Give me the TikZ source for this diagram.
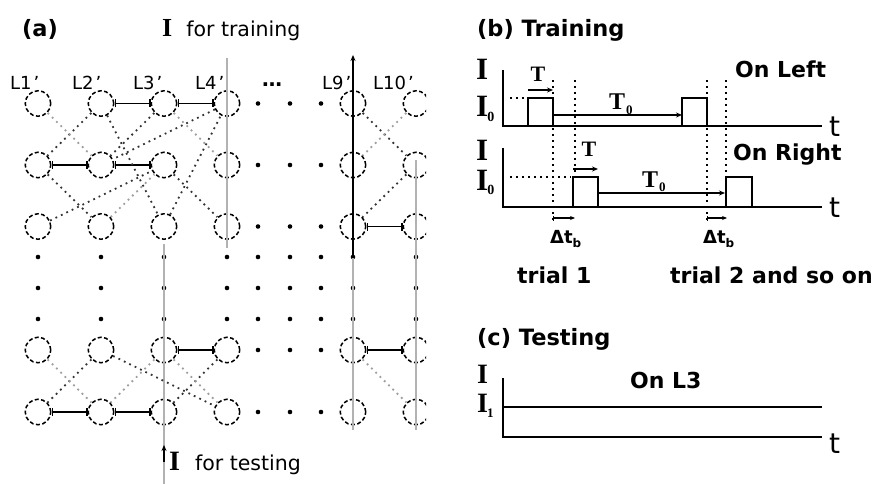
\documentclass[tikz,border=0pt]{standalone}
\usepackage{fontspec}
\setmainfont{DejaVu Sans}
\newfontfamily\tnr{Liberation Serif}
\usetikzlibrary{arrows.meta}
\newcommand{\lowsub}[2]{\raisebox{-5pt}{\fontsize{#1}{#1}\selectfont #2}}
\tikzset{
  neuron/.style={circle, draw=black, line width=1.5pt, dash pattern=on 4pt off 2.4pt, minimum size=25.5pt, inner sep=0pt},
  syn/.style={line width=1.8pt, {Bar[width=8pt,line width=1.6pt]}-{Bar[width=8pt,line width=1.6pt]}},
  dk/.style={draw=black!80, line width=1.8pt, dash pattern=on 1.8pt off 4.2pt},
  lt/.style={draw=black!38, line width=1.8pt, dash pattern=on 1.8pt off 4.2pt},
  vline/.style={draw=black!30, line width=1.3pt},
  lab/.style={font=\fontsize{18}{20}\selectfont, inner sep=0pt, anchor=base west},
  ttl/.style={font=\fontsize{22.5}{26}\selectfont\bfseries, inner sep=0pt, anchor=base west},
  txt/.style={font=\fontsize{20.5}{24}\selectfont, inner sep=0pt, anchor=base west},
  btxt/.style={font=\fontsize{22}{26}\selectfont\bfseries, inner sep=0pt, anchor=base west},
  serI/.style={font=\fontsize{31}{33}\selectfont\tnr\bfseries, inner sep=0pt, anchor=base west},
  serIc/.style={font=\fontsize{28}{30}\selectfont\tnr\bfseries, inner sep=0pt, anchor=base west},
  Tlab/.style={font=\fontsize{22}{24}\selectfont\tnr\bfseries, inner sep=0pt, anchor=base},
  T0lab/.style={font=\fontsize{24}{26}\selectfont\tnr\bfseries, inner sep=0pt, anchor=base west},
  tlab/.style={font=\fontsize{28}{30}\selectfont, inner sep=0pt, anchor=base west},
  dtlab/.style={font=\fontsize{18}{20}\selectfont\bfseries, inner sep=0pt, anchor=base west},
  ax/.style={line width=1.8pt},
  dotl/.style={line width=1.6pt, dash pattern=on 1.6pt off 4.4pt},
  arr/.style={line width=1.3pt, -{Stealth[length=6pt,width=5pt]}},
  dtarr/.style={line width=1.2pt, {Bar[width=5pt]}-{Stealth[length=5pt,width=4pt]}}
}
\begin{document}
\begin{tikzpicture}[x=1pt, y=-1pt]
\useasboundingbox (0,0) rectangle (876,484);
% ---------------- panel (a) ----------------
\begin{scope}
\clip (0,0) rectangle (426,484);
\foreach \c/\x in {1/38,2/101,3/164,4/227,9/353,10/416} {
  \foreach \r/\y in {1/103.5,2/165,3/226.5,6/350,7/412} {
    \node[neuron] (n-\c-\r) at (\x,\y) {};
  }
}
\foreach \x in {258,290,321} \foreach \y in {103.5,165,226.5,350,412} \fill (\x,\y) circle (2.3pt);
\foreach \x in {38,101,164,227,258,290,321,353,416} \foreach \y in {257,288,319} \fill (\x,\y) circle (2.3pt);
% vertical lines
\coordinate (l4top) at (227,58);
\coordinate (l4bot) at (227,248);
\coordinate (l9top) at (353,55);
\coordinate (l9mid) at (353,258);
\coordinate (l9bot) at (353,430);
\coordinate (l10top) at (416,160);
\coordinate (l10bot) at (416,430);
\coordinate (l3top) at (164,244);
\coordinate (l3bot) at (164,484);
\coordinate (testtail) at (164,462);
\coordinate (testhead) at (164,445);
\draw[vline] (l4top) -- (l4bot);
\draw[vline] (l9mid) -- (l9bot);
\draw[vline] (l10top) -- (l10bot);
\draw[vline] (l3top) -- (l3bot);
\draw[black, line width=1.6pt, -{Stealth[length=6pt,width=5pt]}] (l9mid) -- (l9top);
\draw[black, line width=1.4pt, -{Stealth[length=6pt,width=5pt]}] (testtail) -- (testhead);
% solid synapses
\draw[syn] (n-2-1) -- (n-3-1);
\draw[syn] (n-3-1) -- (n-4-1);
\draw[syn] (n-1-2) -- (n-2-2);
\draw[syn] (n-2-2) -- (n-3-2);
\draw[syn] (n-9-3) -- (n-10-3);
\draw[syn] (n-3-6) -- (n-4-6);
\draw[syn] (n-1-7) -- (n-2-7);
\draw[syn] (n-2-7) -- (n-3-7);
\draw[syn] (n-9-6) -- (n-10-6);
% dotted connections
\draw[dk] (n-2-1) -- (n-1-2);
\draw[dk] (n-1-2) -- (n-2-3);
\draw[dk] (n-1-3) -- (n-3-2);
\draw[dk] (n-2-1) -- (n-3-3);
\draw[dk] (n-3-1) -- (n-2-2);
\draw[dk] (n-4-1) -- (n-2-2);
\draw[dk] (n-3-2) -- (n-4-3);
\draw[dk] (n-3-3) -- (n-4-1);
\draw[dk] (n-9-1) -- (n-10-2);
\draw[dk] (n-10-2) -- (n-9-3);
\draw[lt] (n-1-1) -- (n-2-2);
\draw[lt] (n-2-3) -- (n-3-2);
\draw[lt] (n-3-1) -- (n-4-2);
\draw[lt] (n-10-1) -- (n-9-2);
\draw[dk] (n-2-6) -- (n-1-7);
\draw[dk] (n-2-6) -- (n-4-7);
\draw[dk] (n-4-6) -- (n-3-7);
\draw[lt] (n-1-6) -- (n-2-7);
\draw[lt] (n-3-6) -- (n-2-7);
\draw[lt] (n-3-6) -- (n-4-7);
\draw[lt] (n-9-6) -- (n-10-7);
\end{scope}
% labels panel (a)
\node[ttl] (ta) at (22,37) {(a)};
\node[txt] (ttrain) at (162,37) {{\fontsize{26}{28}\selectfont\tnr\bfseries I}\hspace{14pt}for training};
\node[txt] (ttest) at (169,470) {{\fontsize{28}{30}\selectfont\tnr\bfseries I}\hspace{15pt}for testing};
\node[lab] (L1) at (10,90) {L1\kern2pt’};
\node[lab] (L2) at (72,90) {L2\kern2pt’};
\node[lab] (L3) at (133,90) {L3\kern2pt’};
\node[lab] (L4) at (195,90) {L4\kern2pt’};
\node[lab] (L9) at (322,90) {L9\kern2pt’};
\node[lab] (L10) at (373,90) {L10\kern2pt’};
\node[font=\fontsize{20}{22}\selectfont\bfseries, inner sep=0pt, anchor=base] (ell) at (272,87) {…};
% ---------------- panel (b) ----------------
\node[ttl] (tb) at (477,37) {(b) Training};
% top chart
\draw[ax] (503,70) -- (503,126) -- (822,126);
\draw[ax] (528,126) -- (528,98) -- (553,98) -- (553,126);
\draw[ax] (682,126) -- (682,98) -- (707,98) -- (707,126);
\draw[dotl] (510,98) -- (526,98);
\draw[arr] (528,90) -- (553,90);
\draw[arr] (553,115) -- (682,115);
% bottom chart
\draw[ax] (503,148) -- (503,207) -- (822,207);
\draw[ax] (573,207) -- (573,177) -- (598,177) -- (598,207);
\draw[ax] (726,207) -- (726,177) -- (752,177) -- (752,207);
\draw[dotl] (510,177) -- (571,177);
\draw[arr] (573,169) -- (598,169);
\draw[arr] (598,193) -- (725,193);
% dotted verticals
\draw[dotl] (553,80) -- (553,222);
\draw[dotl] (575,80) -- (575,176);
\draw[dotl] (707,80) -- (707,222);
\draw[dotl] (726,80) -- (726,176);
% delta t arrows
\draw[dtarr] (553,218) -- (575,218);
\draw[dtarr] (707,218) -- (727,218);
% texts (b)
\node[serI] (Ia) at (476,80) {I};
\node[serI] (I0a) at (476,117) {I\kern-1pt\lowsub{14}{0}};
\node[serI] (Ib) at (476,161) {I};
\node[serI] (I0b) at (476,190) {I\kern-1pt\lowsub{14}{0}};
\node[Tlab] (Ta) at (538,82) {T};
\node[Tlab] (Tb) at (589,157) {T};
\node[T0lab] (T0a) at (609,110) {T\kern1pt\lowsub{13}{0}};
\node[T0lab] (T0b) at (642,187) {T\kern1pt\lowsub{13}{0}};
\node[btxt] (onleft) at (735,78) {On Left};
\node[btxt] (onright) at (733,161) {On Right};
\node[tlab] (ta1) at (829,137) {t};
\node[tlab] (ta2) at (829,218) {t};
\node[dtlab] (dt1) at (550,243) {Δt\lowsub{12}{b}};
\node[dtlab] (dt2) at (703,243) {Δt\lowsub{12}{b}};
\node[btxt] (tr1) at (517,283) {trial 1};
\node[btxt] (tr2) at (670,283) {trial 2};
\node[btxt] (soon) at (752,283) {and so on};
% ---------------- panel (c) ----------------
\node[ttl] (tc) at (477,345) {(c) Testing};
\draw[ax] (503,378) -- (503,437) -- (822,437);
\draw[ax] (503,407) -- (822,407);
\node[serIc] (Ic) at (477,383) {I};
\node[serIc] (I1c) at (477,412) {I\kern-1pt\lowsub{13}{1}};
\node[btxt] (onl3) at (630,388) {On L3};
\node[tlab] (ta3) at (829,453) {t};
\end{tikzpicture}
\end{document}
